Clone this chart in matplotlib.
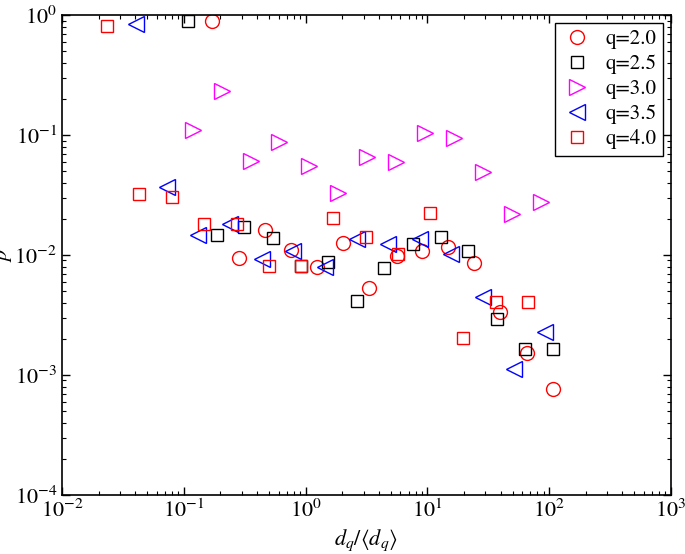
import matplotlib
matplotlib.use("Agg")
from matplotlib import pyplot as plt

# Times-like text everywhere
plt.rcParams['font.family'] = 'STIXGeneral'
plt.rcParams['mathtext.fontset'] = 'stix'

# data (x = d_q/<d_q>, y = p)
x_q20 = [0.171, 0.283, 0.465, 0.759, 1.23, 2.04, 3.33, 5.6, 8.98, 14.9, 24.3, 39.4, 65.3, 107]
y_q20 = [0.897, 0.0095, 0.0162, 0.011, 0.0080, 0.0127, 0.00534, 0.0098, 0.0109, 0.0116, 0.00863, 0.00333, 0.00153, 0.00076]

x_q25 = [0.109, 0.186, 0.314, 0.537, 0.916, 1.54, 2.63, 4.43, 7.57, 12.9, 21.7, 37.1, 63.3, 107]
y_q25 = [0.897, 0.0147, 0.0172, 0.0139, 0.00815, 0.0087, 0.00414, 0.00784, 0.0124, 0.0140, 0.0107, 0.00291, 0.00165, 0.00165]

x_q30 = [0.118, 0.205, 0.354, 0.608, 1.07, 1.85, 3.17, 5.52, 9.55, 16.5, 28.7, 49.8, 85.1]
y_q30 = [0.110, 0.233, 0.0607, 0.0880, 0.0555, 0.0331, 0.0660, 0.0600, 0.1045, 0.0938, 0.0495, 0.0220, 0.0275]

x_q35 = [0.0403, 0.0725, 0.1315, 0.239, 0.436, 0.793, 1.44, 2.63, 4.78, 8.69, 15.5, 28.7, 51.4, 92.4]
y_q35 = [0.841, 0.0367, 0.0147, 0.018, 0.0092, 0.0107, 0.0080, 0.0135, 0.0124, 0.0135, 0.0102, 0.00449, 0.00112, 0.00227]

x_q40 = [0.0233, 0.0432, 0.0794, 0.1466, 0.2716, 0.498, 0.916, 1.69, 3.13, 5.77, 10.6, 19.6, 36.3, 67]
y_q40 = [0.81, 0.0322, 0.0303, 0.0182, 0.018, 0.00815, 0.00815, 0.0205, 0.0142, 0.0102, 0.0225, 0.00202, 0.00408, 0.00408]

fig = plt.figure(figsize=(6.85, 5.54), dpi=100)
ax = fig.add_axes([0.0905, 0.1065, 0.889, 0.8664])

ax.plot(x_q20, y_q20, 'o', mfc='none', mec='#ff0000', ms=10, mew=1.0, ls='none', label='q=2.0')
ax.plot(x_q25, y_q25, 's', mfc='none', mec='#000000', ms=8, mew=1.0, ls='none', label='q=2.5')
ax.plot(x_q30, y_q30, '>', mfc='none', mec='#ff00ff', ms=11, mew=1.0, ls='none', label='q=3.0')
ax.plot(x_q35, y_q35, '<', mfc='none', mec='#0000ff', ms=11, mew=1.0, ls='none', label='q=3.5')
ax.plot(x_q40, y_q40, 's', mfc='none', mec='#ff0000', ms=8, mew=1.0, ls='none', label='q=4.0')

ax.set_xscale('log')
ax.set_yscale('log')
ax.set_xlim(1e-2, 1e3)
ax.set_ylim(1e-4, 1e0)

ax.tick_params(which='both', direction='in', top=True, right=True, labelsize=16)
ax.tick_params(which='major', length=6, width=1)
ax.tick_params(which='minor', length=3, width=0.8)
for s in ax.spines.values():
    s.set_linewidth(1.2)

ax.set_xlabel(r'$d_q/\langle d_q\rangle$', fontsize=16, labelpad=4)
ax.set_ylabel(r'$p$', fontsize=16, labelpad=0)

leg = ax.legend(loc='upper right', fontsize=15, fancybox=False, edgecolor='black',
                framealpha=1, borderaxespad=0.4, handletextpad=0.6, labelspacing=0.25,
                borderpad=0.3, handlelength=1.5)
leg.get_frame().set_linewidth(1.0)

plt.savefig('out.png', dpi=100)
